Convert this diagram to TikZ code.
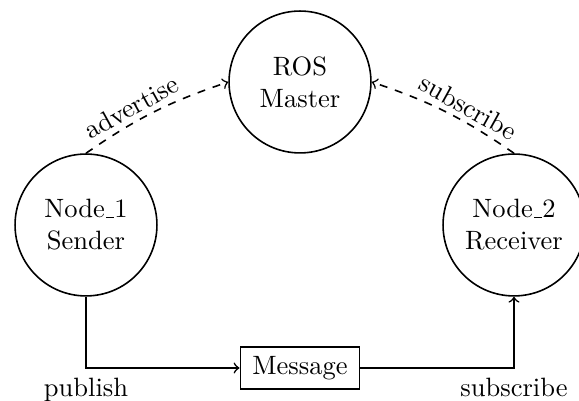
\documentclass[tikz,border=0pt]{standalone}
\usetikzlibrary{arrows}
\newcommand{\usc}{\leavevmode\kern.06em\vbox{\hrule width.3em}}
\begin{document}
\begin{tikzpicture}[x=0.377pt,y=0.377pt,
  rosnode/.style={draw, circle, line width=0.6pt, minimum size=53.5pt, inner sep=0pt, align=center},
  msgbox/.style={draw, rectangle, line width=0.6pt, minimum width=45pt, minimum height=16pt},
  link/.style={->, line width=0.6pt},
  dlink/.style={->, dashed, line width=0.6pt},
  slab/.style={sloped, above, inner sep=1.8pt}]
\useasboundingbox (0,0) rectangle (579,401);
\node[rosnode] (ros) at (300,319) {ROS\\Master};
\node[rosnode] (n1) at (86,176) {Node\usc 1\\Sender};
\node[rosnode] (n2) at (514,176) {Node\usc 2\\Receiver};
\node[msgbox] (msg) at (300,33) {Message};
\draw[dlink] (n1.north) to[bend left=8] node[pos=0.38, slab] {advertise} (ros.west);
\draw[dlink] (n2.north) to[bend right=8] node[pos=0.38, slab] {subscribe} (ros.east);
\draw[link] (n1.south) |- node[pos=0.5, below] {publish} (msg.west);
\draw[link] (msg.east) -| node[pos=0.5, below] {subscribe} (n2.south);
\end{tikzpicture}
\end{document}
